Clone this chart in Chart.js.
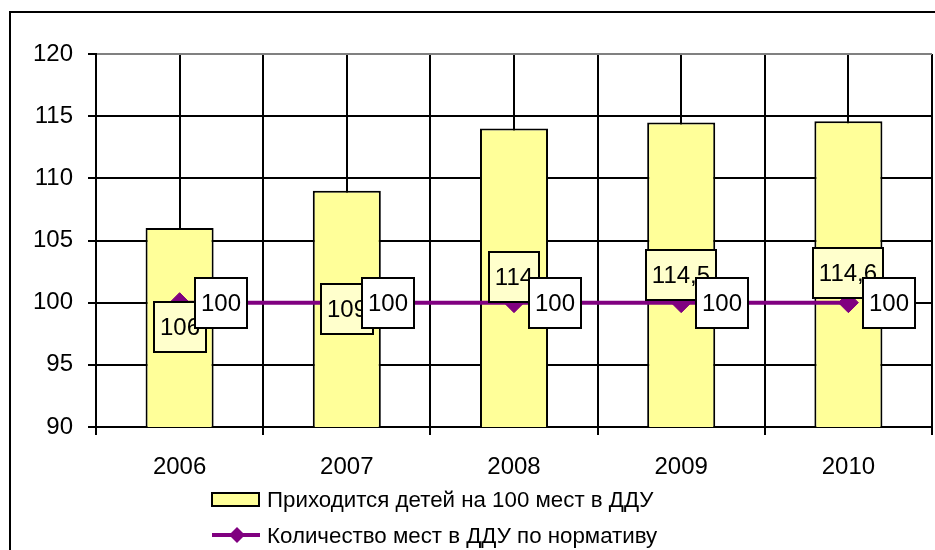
<!DOCTYPE html>
<html>
<head>
<meta charset="utf-8">
<script src="https://cdn.jsdelivr.net/npm/chart.js@4"></script>
<style>
  html, body { margin: 0; padding: 0; background: #fff; overflow: hidden; }
  #wrap { position: relative; width: 935px; height: 550px; }
  #frame { position: absolute; left: 9px; top: 11px; width: 1000px; height: 1000px;
           border-left: 2px solid #000; border-top: 2px solid #000; }
  canvas { position: absolute; left: 0; top: 0; }
</style>
</head>
<body>
<div id="wrap">
  <div id="frame"></div>
  <canvas id="chart" width="935" height="550"></canvas>
</div>
<script>
const years = ['2006', '2007', '2008', '2009', '2010'];
const childrenPer100 = [106, 109, 114, 114.5, 114.6];
const normPlaces = [100, 100, 100, 100, 100];
const seriesNames = ['Приходится детей на 100 мест в ДДУ', 'Количество мест в ДДУ по нормативу'];
const yTicks = { min: 90, max: 120, step: 5 };

const FONT = "'Liberation Sans', Arial, sans-serif";
const BAR_FILL = '#FFFF99';
const LINE_COLOR = '#800080';

const fmt = v => String(v).replace('.', ',');

Chart.defaults.font.family = FONT;
Chart.defaults.font.size = 24;
Chart.defaults.color = '#000';

// boxed data labels, Excel style
const boxLabels = {
  id: 'boxLabels',
  afterDatasetsDraw(chart, args, opts) {
    const ctx = chart.ctx;
    const bars = chart.getDatasetMeta(0).data;
    const pts = chart.getDatasetMeta(1).data;
    ctx.save();
    ctx.font = '24px ' + FONT;
    ctx.textAlign = 'center';
    ctx.textBaseline = 'middle';
    const box = (text, cx, cy, fill) => {
      const w = Math.round(ctx.measureText(text).width + 12), h = 50;
      const x = Math.round(cx - w / 2), y = Math.round(cy - h / 2);
      ctx.fillStyle = fill;
      ctx.fillRect(x, y, w, h);
      ctx.strokeStyle = '#000';
      ctx.lineWidth = 2;
      ctx.strokeRect(x, y, w, h);
      ctx.fillStyle = '#000';
      ctx.fillText(text, x + w / 2, y + h / 2 + 1);
    };
    bars.forEach((b, i) => box(fmt(childrenPer100[i]), b.x, pts[i].y + opts.barShift[i], '#FFFFCC'));
    pts.forEach((p, i) => {
      const t = fmt(normPlaces[i]);
      const w = ctx.measureText(t).width + 12;
      box(t, p.x + 15 + w / 2, p.y, '#fff');
    });
    ctx.restore();
  }
};

// legend below the axis, two rows
const rowLegend = {
  id: 'rowLegend',
  afterDraw(chart) {
    const ctx = chart.ctx;
    ctx.save();
    ctx.font = '22.3px ' + FONT;
    ctx.textAlign = 'left';
    ctx.textBaseline = 'alphabetic';
    ctx.fillStyle = BAR_FILL;
    ctx.fillRect(212, 493, 47, 13);
    ctx.strokeStyle = '#000';
    ctx.lineWidth = 2;
    ctx.strokeRect(212, 493, 47, 13);
    ctx.fillStyle = '#000';
    ctx.fillText(seriesNames[0], 267, 507);

    ctx.strokeStyle = LINE_COLOR;
    ctx.lineWidth = 4;
    ctx.beginPath();
    ctx.moveTo(212, 535);
    ctx.lineTo(260, 535);
    ctx.stroke();
    ctx.fillStyle = LINE_COLOR;
    ctx.beginPath();
    ctx.moveTo(237, 527); ctx.lineTo(245, 535); ctx.lineTo(237, 543); ctx.lineTo(229, 535);
    ctx.closePath();
    ctx.fill();
    ctx.fillStyle = '#000';
    ctx.fillText(seriesNames[1], 267, 543);
    ctx.restore();
  }
};

new Chart(document.getElementById('chart'), {
  data: {
    labels: years,
    datasets: [{
      type: 'bar',
      label: seriesNames[0],
      data: childrenPer100,
      backgroundColor: BAR_FILL,
      borderColor: '#000',
      borderWidth: 2,
      barPercentage: 0.407,
      categoryPercentage: 1,
      order: 2
    }, {
      type: 'line',
      label: seriesNames[1],
      data: normPlaces,
      borderColor: LINE_COLOR,
      borderWidth: 4,
      pointStyle: 'rectRot',
      pointRadius: 10,
      pointBackgroundColor: LINE_COLOR,
      pointBorderColor: LINE_COLOR,
      pointBorderWidth: 1,
      order: 1
    }]
  },
  options: {
    responsive: false,
    animation: false,
    layout: { autoPadding: false, padding: { top: 54, right: 3, bottom: 0, left: 0 } },
    plugins: {
      legend: { display: false },
      tooltip: { enabled: false },
      boxLabels: { barShift: [24, 6, -26, -28, -30] }
    },
    scales: {
      x: {
        offset: true,
        grid: {
          offset: true,
          color: (c) => c.index === years.length ? '#808080' : '#000',
          tickColor: '#000',
          lineWidth: 2,
          tickLength: 8
        },
        border: { color: '#000', width: 2 },
        ticks: { padding: 18, color: '#000' },
        afterFit: (s) => { s.height = 123; s.paddingLeft = 0; s.paddingRight = 0; }
      },
      x2: {
        type: 'category',
        offset: true,
        grid: { offset: false, color: '#000', lineWidth: 2, drawTicks: false },
        border: { display: false },
        ticks: { display: false },
        afterFit: (s) => { s.height = 0; s.paddingLeft = 0; s.paddingRight = 0; }
      },
      y: {
        min: yTicks.min,
        max: yTicks.max,
        ticks: { stepSize: yTicks.step, padding: 15, color: '#000' },
        grid: {
          color: (c) => c.tick && c.tick.value === yTicks.max ? '#808080' : '#000',
          tickColor: '#000',
          lineWidth: 2,
          tickLength: 8
        },
        border: { color: '#000', width: 2 },
        afterFit: (s) => { s.width = 96; }
      }
    }
  },
  plugins: [boxLabels, rowLegend]
});
</script>
</body>
</html>
